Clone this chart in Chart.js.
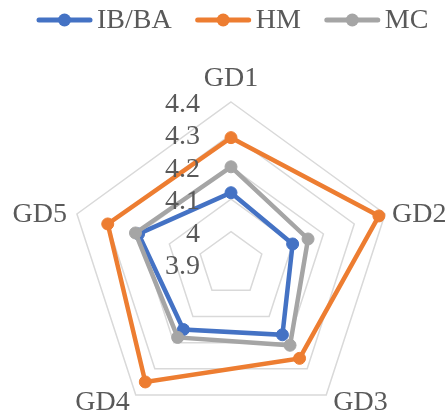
<!DOCTYPE html>
<html>
<head>
<meta charset="utf-8">
<script src="https://cdn.jsdelivr.net/npm/chart.js@4/dist/chart.umd.min.js"></script>
<style>
  html, body { margin: 0; padding: 0; background: #ffffff; overflow: hidden; }
  #wrap { width: 448px; height: 416px; overflow: hidden; }
  canvas { display: block; }
</style>
</head>
<body>
<div id="wrap"><canvas id="radar" width="448" height="426"></canvas></div>
<script>
// Dimensions around the radar
const categories = ['GD1', 'GD2', 'GD3', 'GD4', 'GD5'];

// Mean scores per group
const seriesNames = ['IB/BA', 'HM', 'MC'];
const ibbaValues = [4.12, 4.10, 4.17, 4.15, 4.20];
const hmValues   = [4.29, 4.38, 4.26, 4.35, 4.30];
const mcValues   = [4.20, 4.15, 4.21, 4.18, 4.21];

// Radial axis
const tickValues = [3.9, 4.0, 4.1, 4.2, 4.3, 4.4];
const tickLabels = ['3.9', '4', '4.1', '4.2', '4.3', '4.4'];

const seriesColors = ['#4472C4', '#ED7D31', '#A5A5A5'];
const textColor = '#595959';
const fontFamily = '"Liberation Serif", "Times New Roman", serif';
const fontSize = 28;

// Axis values and category names drawn beside the grid
const labelsPlugin = {
  id: 'radarLabels',
  afterDatasetsDraw(chart) {
    const ctx = chart.ctx;
    const s = chart.scales.r;
    ctx.save();
    ctx.fillStyle = textColor;
    ctx.font = fontSize + 'px ' + fontFamily;
    ctx.textBaseline = 'alphabetic';

    // value labels up the vertical spoke, right-aligned
    ctx.textAlign = 'right';
    tickValues.forEach((v, i) => {
      const d = s.getDistanceFromCenterForValue(v);
      ctx.fillText(tickLabels[i], s.xCenter - 31, s.yCenter - d + 10);
    });

    // category labels just outside the outer ring
    categories.forEach((name, i) => {
      const p = s.getPointPosition(i, s.drawingArea);
      const dx = p.x - s.xCenter;
      const dy = p.y - s.yCenter;
      let x, y;
      if (Math.abs(dx) < 1) {
        ctx.textAlign = 'center';
        x = p.x; y = p.y - 16;
      } else if (dx > 0) {
        ctx.textAlign = 'left';
        x = p.x + 7;
        y = dy < 0 ? p.y + 8 : p.y + 15;
      } else {
        ctx.textAlign = 'right';
        x = dy < 0 ? p.x - 10 : p.x - 6;
        y = dy < 0 ? p.y + 8 : p.y + 15;
      }
      ctx.fillText(name, x, y);
    });
    ctx.restore();
  }
};

// Legend row: line-with-marker swatch followed by the series name
const legendPlugin = {
  id: 'lineLegend',
  afterDraw(chart) {
    const ctx = chart.ctx;
    ctx.save();
    ctx.font = fontSize + 'px ' + fontFamily;
    ctx.textBaseline = 'alphabetic';
    ctx.textAlign = 'left';
    const y = 20;
    let x = 37;
    seriesNames.forEach((name, i) => {
      ctx.strokeStyle = seriesColors[i];
      ctx.lineWidth = 5;
      ctx.lineCap = 'round';
      ctx.beginPath();
      ctx.moveTo(x + 2, y);
      ctx.lineTo(x + 53, y);
      ctx.stroke();
      ctx.fillStyle = seriesColors[i];
      ctx.beginPath();
      ctx.arc(x + 27.5, y, 6.5, 0, Math.PI * 2);
      ctx.fill();
      ctx.fillStyle = textColor;
      ctx.fillText(name, x + 60, 28);
      x += 60 + ctx.measureText(name).width + 24;
    });
    ctx.restore();
  }
};

const values = [ibbaValues, hmValues, mcValues];

new Chart(document.getElementById('radar'), {
  type: 'radar',
  data: {
    labels: categories,
    datasets: seriesNames.map((name, i) => ({
      label: name,
      data: values[i],
      borderColor: seriesColors[i],
      backgroundColor: 'rgba(0,0,0,0)',
      fill: false,
      borderWidth: 4.5,
      pointRadius: 6,
      pointBackgroundColor: seriesColors[i],
      pointBorderColor: seriesColors[i],
      pointBorderWidth: 1,
      order: seriesNames.length - i
    }))
  },
  options: {
    responsive: false,
    animation: false,
    devicePixelRatio: 1,
    layout: { padding: { left: 69, right: 55, top: 102, bottom: 0 } },
    plugins: {
      legend: { display: false },
      tooltip: { enabled: false }
    },
    scales: {
      r: {
        min: 3.9,
        max: 4.4,
        ticks: { display: false, stepSize: 0.1 },
        grid: { color: '#D9D9D9', lineWidth: 1.5 },
        angleLines: { display: false },
        pointLabels: { display: false }
      }
    }
  },
  plugins: [labelsPlugin, legendPlugin]
});
</script>
</body>
</html>
